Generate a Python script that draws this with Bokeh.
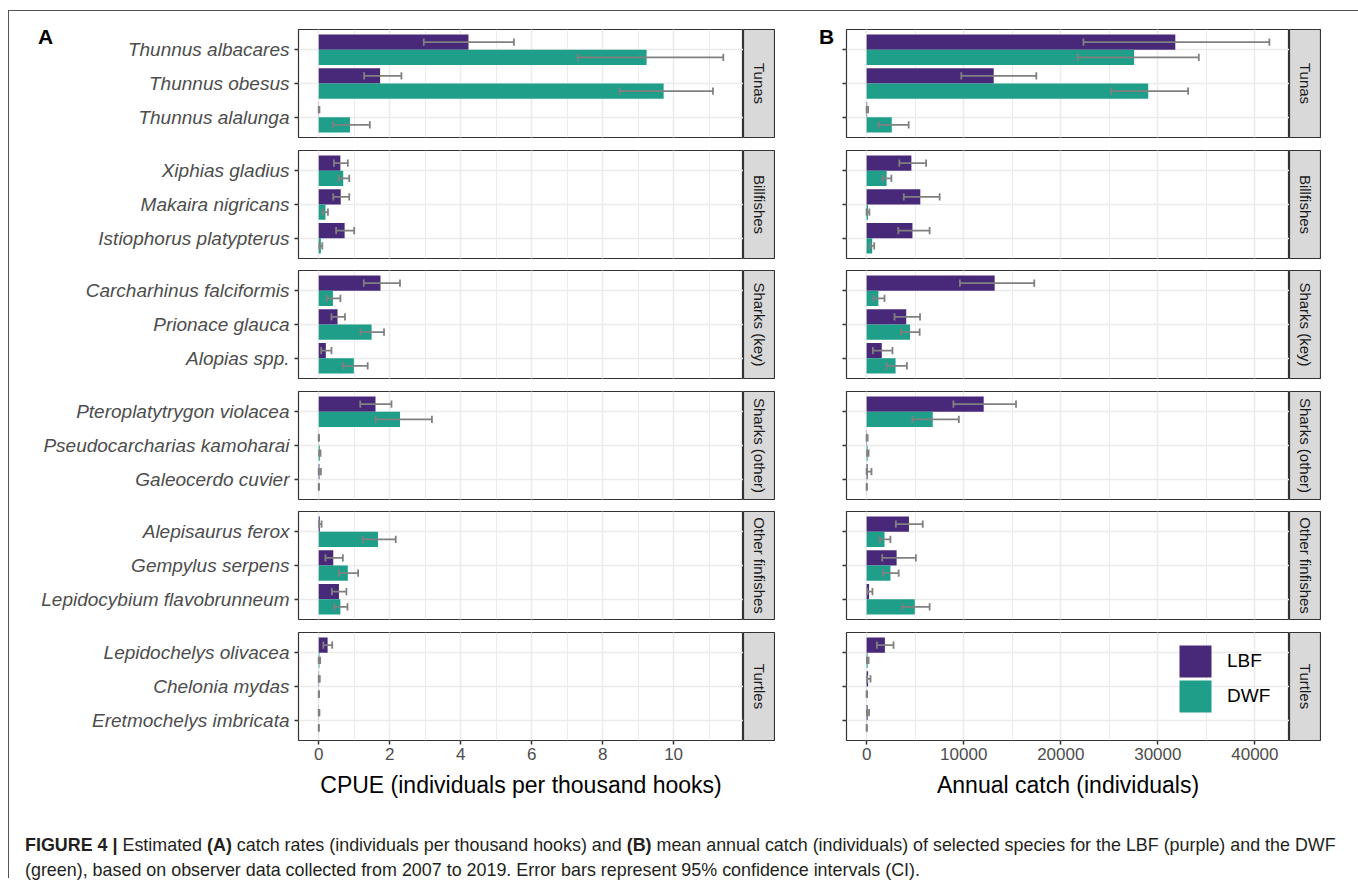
import numpy as np
from bokeh.plotting import figure
from bokeh.models import (Range1d, FixedTicker, SingleIntervalTicker, ColumnDataSource,
                          Legend, LegendItem, Div, Spacer)
from bokeh.layouts import gridplot, column, row
from bokeh.transform import dodge
from bokeh.core.properties import value
from bokeh.embed import file_html
from bokeh.resources import INLINE

# ---------------- data ----------------
groups = ["Tunas", "Billfishes", "Sharks (key)", "Sharks (other)", "Other finfishes", "Turtles"]
species = [
    "Thunnus albacares", "Thunnus obesus", "Thunnus alalunga",
    "Xiphias gladius", "Makaira nigricans", "Istiophorus platypterus",
    "Carcharhinus falciformis", "Prionace glauca", "Alopias spp.",
    "Pteroplatytrygon violacea", "Pseudocarcharias kamoharai", "Galeocerdo cuvier",
    "Alepisaurus ferox", "Gempylus serpens", "Lepidocybium flavobrunneum",
    "Lepidochelys olivacea", "Chelonia mydas", "Eretmochelys imbricata",
]
fleets = ["LBF", "DWF"]

cpue_lbf    = [4.22, 1.73, 0.005, 0.61, 0.62, 0.73, 1.74, 0.53, 0.20, 1.60, 0.003, 0.02, 0.03, 0.41, 0.57, 0.25, 0.01, 0.005]
cpue_lbf_lo = [2.96, 1.28, 0.0,   0.43, 0.41, 0.49, 1.27, 0.36, 0.07, 1.17, 0.0,   0.0,  0.01, 0.19, 0.37, 0.13, 0.0,  0.0]
cpue_lbf_hi = [5.50, 2.33, 0.02,  0.82, 0.86, 1.00, 2.29, 0.74, 0.36, 2.05, 0.01,  0.06, 0.08, 0.68, 0.78, 0.38, 0.03, 0.02]
cpue_dwf    = [9.24, 9.72, 0.88, 0.69, 0.19, 0.06, 0.40, 1.49, 0.99, 2.29, 0.03, 0.002, 1.67, 0.82, 0.61, 0.02, 0.003, 0.002]
cpue_dwf_lo = [7.30, 8.48, 0.40, 0.56, 0.11, 0.02, 0.23, 1.18, 0.68, 1.60, 0.01, 0.0,   1.24, 0.57, 0.44, 0.0,  0.0,   0.0]
cpue_dwf_hi = [11.40, 11.11, 1.44, 0.86, 0.26, 0.10, 0.61, 1.84, 1.38, 3.19, 0.05, 0.01, 2.17, 1.11, 0.81, 0.04, 0.01, 0.005]

catch_lbf    = [31800, 13090, 50, 4610, 5530, 4720, 13190, 4080, 1560, 12060, 30, 100, 4360, 3090, 250, 1880, 150, 100]
catch_lbf_lo = [22340, 9750, 0, 3370, 3830, 3260, 9610, 2870, 640, 8940, 0, 0, 3010, 1600, 70, 1060, 50, 30]
catch_lbf_hi = [41490, 17480, 150, 6130, 7520, 6490, 17270, 5500, 2660, 15390, 100, 500, 5780, 5070, 600, 2770, 400, 250]
catch_dwf    = [27550, 29010, 2590, 2060, 140, 570, 1210, 4470, 2980, 6810, 100, 10, 1840, 2450, 4960, 100, 10, 10]
catch_dwf_lo = [21740, 25210, 1240, 1630, 0, 350, 710, 3550, 2060, 4720, 50, 0, 1350, 1670, 3690, 30, 0, 0]
catch_dwf_hi = [34220, 33120, 4330, 2550, 280, 780, 1840, 5460, 4150, 9500, 200, 30, 2450, 3300, 6490, 200, 50, 30]

x_titles = ["CPUE (individuals per thousand hooks)", "Annual catch (individuals)"]
panel_tags = ["A", "B"]
caption_html = ("<b>FIGURE 4 |</b> Estimated <b>(A)</b> catch rates (individuals per thousand hooks) and "
                "<b>(B)</b> mean annual catch (individuals) of selected species for the LBF (purple) and the DWF<br>"
                "(green), based on observer data collected from 2007 to 2019. Error bars represent 95% "
                "confidence intervals (CI).")

# ---------------- style / layout constants ----------------
C_LBF = "#482878"
C_DWF = "#1F9E89"
C_ERR = "#808080"
FONT = "Liberation Sans"
FH = 108
TOPS = [29, 150, 270, 391, 511, 632]
Y0 = 11
PB = 8                # panel left border (ticks)
LABW = [281, 63]      # label strip widths left of each panel column
FW = [445, 443]
SW = 32
BOTTOM_LAST = 62
TAG_X = [36, 51]      # tag centre inside label strip (px)
TAG_DY = 6.5          # tag centre below panel top (px)
YR = (-0.6, 2.6)
LEG_X = 329
LEG_Y = [59, 24]

datasets = [
    (cpue_lbf, cpue_lbf_lo, cpue_lbf_hi, cpue_dwf, cpue_dwf_lo, cpue_dwf_hi),
    (catch_lbf, catch_lbf_lo, catch_lbf_hi, catch_dwf, catch_dwf_lo, catch_dwf_hi),
]
tick_int = [2, 10000]

xranges = []
for d in datasets:
    xmax = max(max(d[2]), max(d[5]))
    xranges.append(Range1d(-0.05 * xmax, 1.05 * xmax))

n = len(groups)
borders = []
for i in range(n):
    t = TOPS[0] - Y0 if i == 0 else 6
    b = BOTTOM_LAST if i == n - 1 else TOPS[i + 1] - 6 - (TOPS[i] + FH)
    borders.append((t, b))

BW = 0.45
CAP = 0.11
YPOS = [2, 1, 0]


def base_fig(w, t, b, xr, yr, left=0):
    return figure(width=w, height=t + FH + b, x_range=xr, y_range=yr,
                  min_border_left=left, min_border_right=0,
                  min_border_top=t, min_border_bottom=b,
                  toolbar_location=None, tools="", output_backend="svg")


def make_labels(col, gi):
    t, b = borders[gi]
    s = base_fig(LABW[col], t, b, Range1d(0, LABW[col]), Range1d(*YR))
    s.xaxis.visible = False
    s.yaxis.visible = False
    s.grid.visible = False
    s.outline_line_color = None
    s.background_fill_color = "white"
    s.border_fill_color = "white"
    if col == 0:
        names = species[3 * gi: 3 * gi + 3]
        s.text(x=[LABW[col] - 1] * 3, y=YPOS, text=names, text_align="right",
               text_baseline="middle", text_font=value(FONT), text_font_style="italic",
               text_font_size="19px", text_color="#4D4D4D")
    if gi == 0:
        ty = YR[1] - TAG_DY / FH * (YR[1] - YR[0])
        s.text(x=[TAG_X[col]], y=[ty], text=[panel_tags[col]], text_align="center",
               text_baseline="middle", text_font=value(FONT), text_font_style="bold",
               text_font_size="21px", text_color="#000000")
    return s


def make_panel(col, gi):
    t, b = borders[gi]
    d = datasets[col]
    sl = slice(3 * gi, 3 * gi + 3)
    src = ColumnDataSource(dict(
        y=YPOS,
        lbf=d[0][sl], lbf_lo=d[1][sl], lbf_hi=d[2][sl],
        dwf=d[3][sl], dwf_lo=d[4][sl], dwf_hi=d[5][sl],
    ))
    p = base_fig(PB + FW[col], t, b, xranges[col], Range1d(*YR), left=PB)
    p.background_fill_color = "white"
    p.border_fill_color = "white"
    p.outline_line_color = "#333333"
    p.outline_line_width = 1.2

    tk = SingleIntervalTicker(interval=tick_int[col], num_minor_ticks=2)
    p.xaxis.ticker = tk
    p.xgrid.ticker = tk
    p.xgrid.grid_line_color = "#EBEBEB"
    p.xgrid.grid_line_width = 1.5
    p.xgrid.minor_grid_line_color = "#EBEBEB"
    p.xgrid.minor_grid_line_width = 1.0
    yt = FixedTicker(ticks=YPOS)
    p.yaxis.ticker = yt
    p.ygrid.ticker = yt
    p.ygrid.grid_line_color = "#EBEBEB"
    p.ygrid.grid_line_width = 1.5

    p.yaxis.major_label_overrides = {v: "" for v in YPOS}
    p.yaxis.axis_line_color = None
    p.yaxis.major_tick_out = 4
    p.yaxis.major_tick_in = 0
    p.yaxis.minor_tick_out = 0
    p.yaxis.minor_tick_in = 0
    p.yaxis.major_tick_line_color = "#333333"
    p.yaxis.major_tick_line_width = 1.5
    p.yaxis.major_label_standoff = 0
    p.yaxis.major_label_text_font_size = "1px"

    if gi == n - 1:
        ax = p.xaxis[0]
        ax.axis_line_color = None
        ax.major_tick_out = 4
        ax.major_tick_in = 0
        ax.minor_tick_out = 0
        ax.minor_tick_in = 0
        ax.major_tick_line_color = "#333333"
        ax.major_tick_line_width = 1.5
        ax.major_label_text_font = FONT
        ax.major_label_text_font_size = "17px"
        ax.major_label_text_color = "#4D4D4D"
        ax.major_label_standoff = 3
        ax.axis_label = x_titles[col]
        ax.axis_label_text_font = FONT
        ax.axis_label_text_font_size = "23px"
        ax.axis_label_text_font_style = "normal"
        ax.axis_label_text_color = "#000000"
        ax.axis_label_standoff = 9
    else:
        p.xaxis.visible = False

    r1 = p.hbar(y=dodge("y", BW / 2), right="lbf", left=0, height=BW, source=src,
                fill_color=C_LBF, line_color=None)
    r2 = p.hbar(y=dodge("y", -BW / 2), right="dwf", left=0, height=BW, source=src,
                fill_color=C_DWF, line_color=None)
    for key, off in (("lbf", BW / 2), ("dwf", -BW / 2)):
        p.segment(x0=key + "_lo", x1=key + "_hi", y0=dodge("y", off), y1=dodge("y", off),
                  source=src, line_color=C_ERR, line_width=1.8)
        for end in ("_lo", "_hi"):
            p.segment(x0=key + end, x1=key + end, y0=dodge("y", off - CAP), y1=dodge("y", off + CAP),
                      source=src, line_color=C_ERR, line_width=1.8)

    if col == 1 and gi == n - 1:
        for k, rr in enumerate((r1, r2)):
            leg = Legend(items=[LegendItem(label=fleets[k], renderers=[rr])],
                         location=(LEG_X, LEG_Y[k]), orientation="vertical",
                         glyph_width=40, glyph_height=40, spacing=0, padding=0, margin=0,
                         label_standoff=12, label_text_font=FONT, label_text_font_size="19px",
                         label_text_color="#000000", border_line_color=None,
                         background_fill_alpha=0)
            p.add_layout(leg)
    return p


def make_strip(gi):
    t, b = borders[gi]
    s = base_fig(SW, t, b, Range1d(0, 1), Range1d(0, 1))
    s.xaxis.visible = False
    s.yaxis.visible = False
    s.grid.visible = False
    s.background_fill_color = "#D9D9D9"
    s.border_fill_color = "white"
    s.outline_line_color = "#333333"
    s.outline_line_width = 1.2
    s.text(x=[0.5], y=[0.5], text=[groups[gi]], angle=-np.pi / 2,
           text_align="center", text_baseline="middle",
           text_font=value(FONT), text_font_size="15px", text_color="#1A1A1A")
    return s


rows = []
for gi in range(n):
    rows.append([make_labels(0, gi), make_panel(0, gi), make_strip(gi),
                 make_labels(1, gi), make_panel(1, gi), make_strip(gi)])

grid = gridplot(children=rows, toolbar_location=None)

cap = Div(text=('<div style="font-family:\'Liberation Sans\';font-size:17.9px;line-height:25px;'
                'color:#231F20;white-space:nowrap;padding:26px 0 0 11px">' + caption_html + '</div>'),
          width=1341, height=66)

boxed = column(grid, cap)
boxed.styles = {"border-top": "1px solid #555555", "border-left": "1px solid #555555",
                "border-right": "1px solid #555555"}
page = column(Spacer(height=10, width=10), row(Spacer(width=8, height=10), boxed))

open("out.html", "w").write(file_html(page, INLINE))
